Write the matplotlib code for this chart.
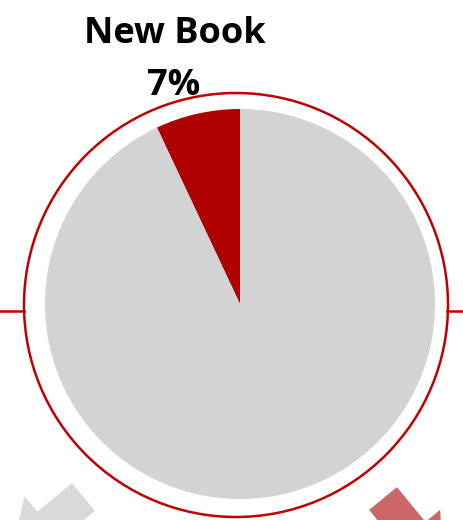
import matplotlib.pyplot as plt
from matplotlib.patches import Circle, FancyArrow

# dados do grafico
categorias = ["New Book", "Outros"]
valores = [7, 93]
cores = ["#AE0000", "#D3D3D3"]
rotulo = "New Book"
rotulo_pct = "7%"

W, H = 463, 520
fig = plt.figure(figsize=(W / 100, H / 100), dpi=100)
ax = fig.add_axes([0, 0, 1, 1])

# pizza (eixo y invertido: 270 graus aponta para o topo da tela)
ax.pie(valores, colors=cores, startangle=270, counterclock=False,
       center=(240, 304), radius=195, frame=True,
       wedgeprops=dict(linewidth=0))
ax.set_xlim(0, W)
ax.set_ylim(H, 0)  # coordenadas em pixels, y para baixo
ax.set_aspect("equal")
ax.axis("off")

# anel externo e linha horizontal
ax.add_patch(Circle((236, 305), 212, fill=False, ec="#C00000", lw=1.8))
ax.plot([0, 24], [311, 311], color="#C00000", lw=1.8)
ax.plot([447, W], [311, 311], color="#C00000", lw=1.8)

# setas decorativas
ax.add_patch(FancyArrow(83.5, 497, -0.773 * 95, 0.635 * 95, width=36,
                        head_width=76, head_length=50,
                        length_includes_head=True, color="#D9D9D9", lw=0))
ax.add_patch(FancyArrow(383, 498.5, 0.635 * 95, 0.773 * 95, width=36,
                        head_width=74, head_length=50,
                        length_includes_head=True, color="#CD6666", lw=0))

# rotulos
ax.text(175, 43, rotulo, ha="center", va="baseline", fontsize=26,
        fontweight="bold", family="Open Sans")
ax.text(174, 95, rotulo_pct, ha="center", va="baseline", fontsize=26,
        fontweight="bold", family="Open Sans")

fig.savefig("out.png", dpi=100)
